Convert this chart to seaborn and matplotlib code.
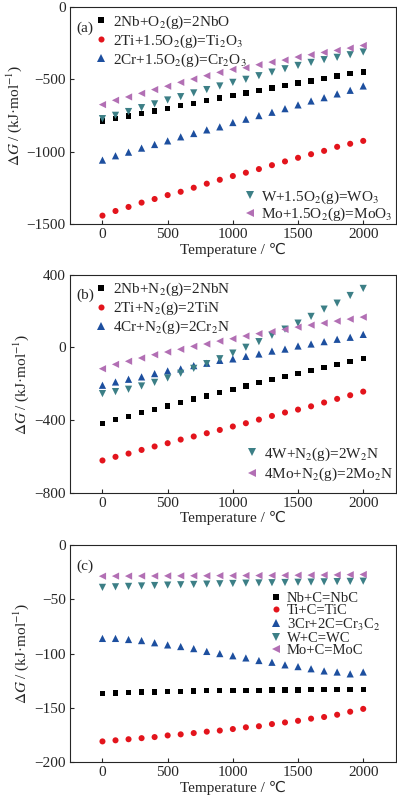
import numpy as np
import pandas as pd
import matplotlib
matplotlib.use("Agg")
import matplotlib.pyplot as plt
import seaborn as sns
from matplotlib.lines import Line2D

T = list(range(0, 2001, 100))

# Panel (a) oxides
a_NbO = [-787, -771, -752, -736, -718, -699, -681, -665, -644, -628, -612, -593, -575, -559, -543, -524, -511, -492, -476, -460, -449]
a_Ti2O3 = [-1442, -1410, -1382, -1352, -1327, -1300, -1277, -1249, -1221, -1194, -1168, -1145, -1120, -1093, -1067, -1042, -1017, -994, -966, -945, -925]
a_Cr2O3 = [-1058, -1028, -1003, -975, -950, -925, -897, -874, -849, -828, -798, -775, -750, -727, -702, -676, -649, -626, -600, -575, -545]
a_WO3 = [-771, -748, -722, -695, -669, -642, -619, -593, -570, -545, -520, -499, -474, -449, -426, -403, -382, -363, -347, -329, -310]
a_MoO3 = [-674, -644, -621, -596, -570, -547, -520, -497, -474, -451, -430, -419, -398, -380, -366, -345, -329, -313, -299, -283, -265]

# Panel (b) nitrides
b_NbN = [-419, -397, -379, -357, -340, -322, -302, -283, -267, -247, -230, -212, -194, -177, -159, -142, -126, -109, -93, -76, -62]
b_TiN = [-622, -602, -584, -564, -545, -527, -507, -490, -472, -454, -435, -417, -397, -377, -358, -342, -324, -303, -283, -263, -243]
b_Cr2N = [-208, -190, -175, -162, -144, -129, -118, -100, -87, -71, -63, -49, -36, -20, -9, 8, 19, 32, 45, 56, 72]
b_W2N = [-254, -243, -230, -212, -192, -168, -142, -115, -89, -62, -31, 1, 32, 67, 101, 134, 171, 211, 244, 286, 325]
b_Mo2N = [-117, -93, -76, -58, -40, -25, -10, 6, 19, 35, 48, 63, 76, 87, 99, 112, 123, 134, 145, 156, 167]

# Panel (c) carbides
c_NbC = [-137, -136.5, -136, -135.5, -135.3, -135, -134.7, -134.5, -134.3, -134.2, -134, -133.9, -133.8, -133.7, -133.6, -133.5, -133.4, -133.3, -133.2, -133.1, -133]
c_TiC = [-181, -180, -179, -178, -177, -175.5, -174.5, -173.3, -172, -171, -169.6, -168, -167, -165, -163.5, -162, -160, -158.5, -156.4, -153.6, -151]
c_Cr3C2 = [-86, -86, -87, -88, -90, -92, -93.5, -95.4, -98, -100, -102, -104, -106.4, -108, -110.4, -112, -114, -116, -117, -118.7, -117]
c_WC = [-38.9, -38.4, -38, -37.6, -37.2, -36.8, -36.5, -36.2, -35.9, -35.6, -35.3, -35, -34.8, -34.6, -34.4, -34.2, -34, -33.8, -33.6, -33.4, -33.2]
c_MoC = [-28.6, -28.5, -28.5, -28.4, -28.4, -28.3, -28.3, -28.2, -28.2, -28.1, -28.1, -28, -28, -27.9, -27.8, -27.7, -27.6, -27.5, -27.4, -27.2, -27]

labels_a = [r'2Nb+O$_2$(g)=2NbO', r'2Ti+1.5O$_2$(g)=Ti$_2$O$_3$', r'2Cr+1.5O$_2$(g)=Cr$_2$O$_3$',
            r'W+1.5O$_2$(g)=WO$_3$', r'Mo+1.5O$_2$(g)=MoO$_3$']
labels_b = [r'2Nb+N$_2$(g)=2NbN', r'2Ti+N$_2$(g)=2TiN', r'4Cr+N$_2$(g)=2Cr$_2$N',
            r'4W+N$_2$(g)=2W$_2$N', r'4Mo+N$_2$(g)=2Mo$_2$N']
labels_c = ['Nb+C=NbC', 'Ti+C=TiC', r'3Cr+2C=Cr$_3$C$_2$', 'W+C=WC', 'Mo+C=MoC']

colors = ['#000000', '#e3141c', '#1d4f9f', '#3c7f86', '#b26fb4']
markers = ['s', 'o', '^', 'v', '<']
msizes = [15, 19, 27, 27, 27]

sns.set_theme(style='ticks')
plt.rcParams['font.family'] = ['Liberation Serif', 'DejaVu Sans']
plt.rcParams['mathtext.fontset'] = 'stix'
plt.rcParams['font.size'] = 11
plt.rcParams['xtick.direction'] = 'in'
plt.rcParams['ytick.direction'] = 'in'
plt.rcParams['axes.linewidth'] = 0.8

fig = plt.figure(figsize=(3.97, 8.0), dpi=100)
L, W = 0.176, 0.821
axes = [fig.add_axes([L, 0.720, W, 0.271]),
        fig.add_axes([L, 0.384, W, 0.2725]),
        fig.add_axes([L, 0.0475, W, 0.271])]

panels = [
    ([a_NbO, a_Ti2O3, a_Cr2O3, a_WO3, a_MoO3], labels_a, (-1500, 0), [0, -500, -1000, -1500], '(a)'),
    ([b_NbN, b_TiN, b_Cr2N, b_W2N, b_Mo2N], labels_b, (-800, 400), [400, 0, -400, -800], '(b)'),
    ([c_NbC, c_TiC, c_Cr3C2, c_WC, c_MoC], labels_c, (-200, 0), [0, -50, -100, -150, -200], '(c)'),
]
low_anchor = [-0.01, 0.03]
leg_kw = dict(frameon=False, handlelength=0.7, handletextpad=0.4,
              borderpad=0.2, borderaxespad=0)

for i, (ax, (series, labels, ylim, yticks, tag)) in enumerate(zip(axes, panels)):
    handles = []
    for s, lab, c, m, ms in zip(series, labels, colors, markers, msizes):
        df = pd.DataFrame({'T': T, 'G': s})
        sns.scatterplot(data=df, x='T', y='G', ax=ax, color=c, marker=m, s=ms,
                        edgecolor='none', linewidth=0, legend=False)
        handles.append(Line2D([], [], linestyle='none', marker=m, color=c,
                              markersize=np.sqrt(ms), markeredgewidth=0, label=lab))
    ax.set_xlim(-250, 2250)
    ax.set_ylim(*ylim)
    ax.set_xticks([0, 500, 1000, 1500, 2000])
    ax.set_yticks(yticks)
    ax.set_xlabel('Temperature / ℃', fontsize=11, labelpad=1)
    ax.set_ylabel(r'$\Delta G$ / (kJ·mol$^{-1}$)', fontsize=11, labelpad=2)
    ax.tick_params(labelsize=11, length=3, width=0.8, pad=3)
    ax.yaxis.set_major_formatter(matplotlib.ticker.FuncFormatter(lambda v, p: f'{int(v)}'.replace('-', '\u2212')))
    ax.text(0.02, 0.905, tag, transform=ax.transAxes, fontsize=11, va='center')
    if i < 2:
        leg1 = ax.legend(handles=handles[:3], loc='upper left', bbox_to_anchor=(0.07, 0.985),
                         labelspacing=0.1, fontsize=11, **leg_kw)
        ax.add_artist(leg1)
        ax.legend(handles=handles[3:], loc='lower right', bbox_to_anchor=(1.0, low_anchor[i]),
                  labelspacing=0.0 if i == 0 else 0.2, fontsize=11, **leg_kw)
    else:
        ax.legend(handles=handles, loc='upper right', bbox_to_anchor=(0.96, 0.80),
                  labelspacing=-0.05, fontsize=10.5, **leg_kw)

fig.savefig('out.png', dpi=100)
